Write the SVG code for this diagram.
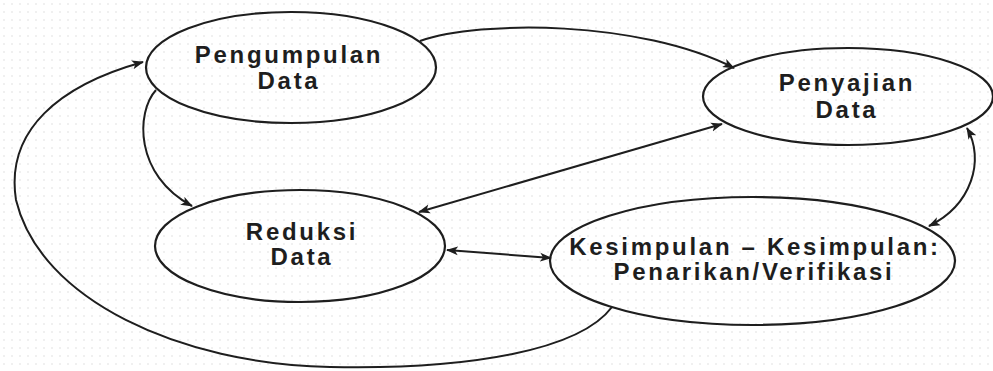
<svg xmlns="http://www.w3.org/2000/svg" width="993" height="371" viewBox="0 0 993 371">
<style>
.node ellipse{fill:none;stroke:#1e1e1e;stroke-width:2.2}
.node text{font-family:"Liberation Sans",Arial,sans-serif;font-weight:bold;font-size:24px;fill:#1e1e1e;text-anchor:middle;letter-spacing:2.7px}
.conn path{fill:none;stroke:#1e1e1e;stroke-width:2}
</style>
<defs>
<pattern id="dots" width="8" height="8" patternUnits="userSpaceOnUse">
<circle cx="4" cy="4" r="0.7" fill="#d4d4d4"/>
</pattern>
<marker id="arr" markerUnits="userSpaceOnUse" markerWidth="12" markerHeight="10" viewBox="0 0 12 10" refX="11" refY="5" orient="auto-start-reverse">
<path d="M0,0.5 L12,5 L0,9.5 L3,5 Z" fill="#1e1e1e"/>
</marker>
</defs>
<rect width="993" height="371" fill="#fff"/>
<rect width="993" height="371" fill="url(#dots)"/>
<g class="conn">
<path d="M420,41 C480,20 640,20 734,68" marker-end="url(#arr)"/>
<path d="M722,124 L419,212" marker-start="url(#arr)" marker-end="url(#arr)"/>
<path d="M447,250 L551,258" marker-start="url(#arr)" marker-end="url(#arr)"/>
<path d="M967,128 C985,160 972,205 929,226" marker-start="url(#arr)" marker-end="url(#arr)"/>
<path d="M156,90 C136,112 134,175 192,206" marker-end="url(#arr)"/>
<path d="M612,307 C580,350 470,370 330,367 C180,364 40,300 16,200 C5,130 60,85 143,62" marker-end="url(#arr)"/>
</g>
<g id="pengumpulan" class="node">
<ellipse cx="291" cy="67.5" rx="145" ry="55.5"/>
<text x="289" y="63">Pengumpulan</text>
<text x="289" y="89">Data</text>
</g>
<g id="penyajian" class="node">
<ellipse cx="848" cy="96.5" rx="145" ry="48.5"/>
<text x="847" y="91">Penyajian</text>
<text x="847" y="118">Data</text>
</g>
<g id="reduksi" class="node">
<ellipse cx="300" cy="246" rx="145" ry="56"/>
<text x="302" y="240">Reduksi</text>
<text x="302" y="265">Data</text>
</g>
<g id="kesimpulan" class="node">
<ellipse cx="752.5" cy="261" rx="202.5" ry="64"/>
<text x="755" y="255">Kesimpulan – Kesimpulan:</text>
<text x="754" y="280">Penarikan/Verifikasi</text>
</g>
</svg>
